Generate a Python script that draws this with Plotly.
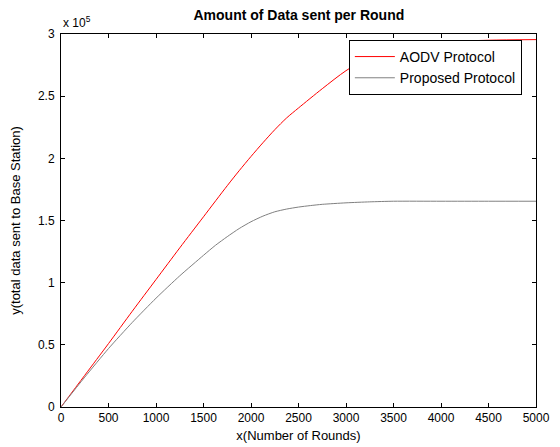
import plotly.graph_objects as go

# Data
aodv_x = [0, 250, 500, 750, 1000, 1250, 1500, 1750, 1875, 2000, 2125, 2250, 2375, 2500, 2750, 3000, 3250, 3500, 3750, 4000, 4500, 5000]
aodv_y = [0, 25500, 51000, 77000, 102500, 128000, 153000, 178000, 190000, 201500, 212500, 223000, 232500, 240500, 256000, 270500, 281500, 288000, 291500, 293500, 295000, 295500]

prop_x = [0, 250, 500, 750, 1000, 1250, 1500, 1625, 1750, 1875, 2000, 2125, 2250, 2375, 2500, 2625, 2750, 3000, 3250, 3500, 4000, 4500, 5000]
prop_y = [0, 24000, 47000, 68000, 87500, 105500, 122000, 130000, 137000, 143500, 149000, 153500, 157000, 159200, 160800, 162000, 163000, 164200, 165000, 165500, 165500, 165500, 165500]

x_ticks = [0, 500, 1000, 1500, 2000, 2500, 3000, 3500, 4000, 4500, 5000]
y_tickvals = [0, 50000, 100000, 150000, 200000, 250000, 300000]
y_ticktext = ["0", "0.5", "1", "1.5", "2", "2.5", "3"]

FONT = "Arial, Liberation Sans, Helvetica, sans-serif"

fig = go.Figure()
fig.add_trace(go.Scatter(x=aodv_x, y=aodv_y, mode="lines", name="AODV Protocol",
                         line=dict(color="#ff0000", width=1, shape="spline", smoothing=0.8)))
fig.add_trace(go.Scatter(x=prop_x, y=prop_y, mode="lines", name="Proposed Protocol",
                         line=dict(color="#808080", width=1, shape="spline", smoothing=0.6)))

axis_common = dict(showline=True, linecolor="black", linewidth=1, mirror="ticks",
                   ticks="inside", ticklen=4, tickcolor="black", showgrid=False,
                   zeroline=False, automargin=False,
                   tickfont=dict(family=FONT, size=12, color="black"))

fig.update_xaxes(range=[0, 5000], tickvals=x_ticks, **axis_common,
                 title=dict(text="x(Number of Rounds)", font=dict(family=FONT, size=13, color="black"),
                            standoff=6))
fig.update_yaxes(range=[0, 300000], tickvals=y_tickvals, ticktext=y_ticktext, ticklabelstandoff=3,
                 **axis_common,
                 title=dict(text="y(total data sent to Base Station)", font=dict(family=FONT, size=13, color="black"),
                            standoff=15))

# page body adds an 8px offset, so the figure is sized/margined to land the axes where the reference has them
fig.update_layout(
    width=552, height=439,
    margin=dict(l=53, r=24, t=26, b=40),
    paper_bgcolor="white", plot_bgcolor="white",
    title=dict(text="<b>Amount of Data sent per Round</b>", x=0.527, xanchor="center",
               y=0.984, yanchor="middle", font=dict(family=FONT, size=14, color="black")),
    legend=dict(x=0.606, y=0.984, xanchor="left", yanchor="top",
                bgcolor="white", bordercolor="black", borderwidth=1,
                font=dict(family=FONT, size=14, color="black"),
                tracegroupgap=0, itemwidth=40),
    showlegend=True,
    annotations=[dict(text="x 10<sup>5</sup>", xref="paper", yref="paper", x=0, y=1,
                      xanchor="left", yanchor="bottom", yshift=2, showarrow=False,
                      font=dict(family=FONT, size=12, color="black"))],
)

fig.write_html("out.html")
